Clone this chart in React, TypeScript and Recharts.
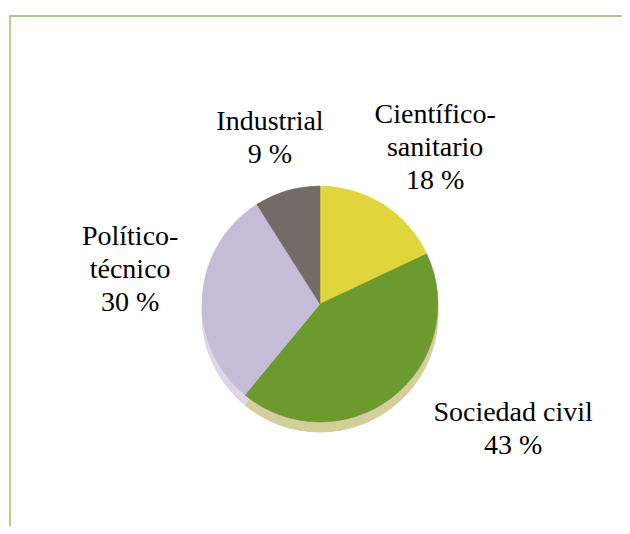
import React from 'react'
import { PieChart, Pie, Cell } from 'recharts'

// sectors, clockwise from 12 o'clock
const sectors = ['Científico-sanitario', 'Sociedad civil', 'Político-técnico', 'Industrial']
const shares = [18, 43, 30, 9]
const labelLines = [['Científico-', 'sanitario'], ['Sociedad civil'], ['Político-', 'técnico'], ['Industrial']]

const colors = ['#e0d63c', '#6d9a2e', '#c5bcd7', '#716d66']
const shadowColors = ['#e2dc8c', '#d3cf9b', '#ddd6e6', '#b2aea6']

// where each label sits: distance from the centre and a nudge off the slice mid-angle
const labelPlace: Record<string, { r: number; da: number }> = {
    'Científico-sanitario': { r: 195, da: -3.8 },
    'Sociedad civil': { r: 230, da: 19.3 },
    'Político-técnico': { r: 193, da: -6.8 },
    'Industrial': { r: 174, da: 0.5 },
}

const RAD = Math.PI / 180
const LINE_H = 33

const data = sectors.map((name, i) => ({
    name,
    value: shares[i],
    lines: labelLines[i],
}))

const labelCss = `.pie-label text { font-family: "Liberation Serif", "Times New Roman", serif !important; }`

function renderLabel(props: any) {
    const { cx, cy, midAngle, payload, value, name } = props
    const place = labelPlace[name] || { r: 180, da: 0 }
    const a = (midAngle + place.da) * RAD
    const x = cx + place.r * Math.cos(-a)
    const y = cy + place.r * Math.sin(-a)
    const lines: string[] = [...(payload.lines || [name]), `${value} %`]
    // first baseline so the block is centred on (x, y)
    const top = y - ((lines.length - 1) * LINE_H) / 2 + 9
    return (
        <g className="pie-label">
            {lines.map((t, i) => (
                <text key={i} x={x} y={top + i * LINE_H} textAnchor="middle" fontFamily="Liberation Serif" fontSize={28} fill="#000">
                    {t}
                </text>
            ))}
        </g>
    )
}

export default function App() {
    return (
        <div style={{ position: 'relative', margin: -8, width: 630, height: 534, background: '#fff' }}>
            <style>{labelCss}</style>
            <div
                style={{
                    position: 'absolute',
                    left: 9,
                    top: 15,
                    right: 0,
                    bottom: 0,
                    borderTop: '2px solid #aac78e',
                    borderLeft: '2px solid #b5cf98',
                }}
            />
            <PieChart width={630} height={534} margin={{ top: 0, right: 0, bottom: 0, left: 0 }}>
                {/* extruded underside */}
                <Pie
                    data={data}
                    dataKey="value"
                    nameKey="name"
                    cx={320}
                    cy={314}
                    outerRadius={118}
                    startAngle={90}
                    endAngle={-270}
                    isAnimationActive={false}
                    label={false}
                    labelLine={false}
                >
                    {data.map((_, i) => (
                        <Cell key={`shadow-${i}`} fill={shadowColors[i]} stroke={shadowColors[i]} />
                    ))}
                </Pie>
                <Pie
                    data={data}
                    dataKey="value"
                    nameKey="name"
                    cx={320}
                    cy={304}
                    outerRadius={118}
                    startAngle={90}
                    endAngle={-270}
                    isAnimationActive={false}
                    label={renderLabel}
                    labelLine={false}
                >
                    {data.map((_, i) => (
                        <Cell key={`cell-${i}`} fill={colors[i]} stroke={colors[i]} strokeWidth={0.5} />
                    ))}
                </Pie>
            </PieChart>
        </div>
    )
}
